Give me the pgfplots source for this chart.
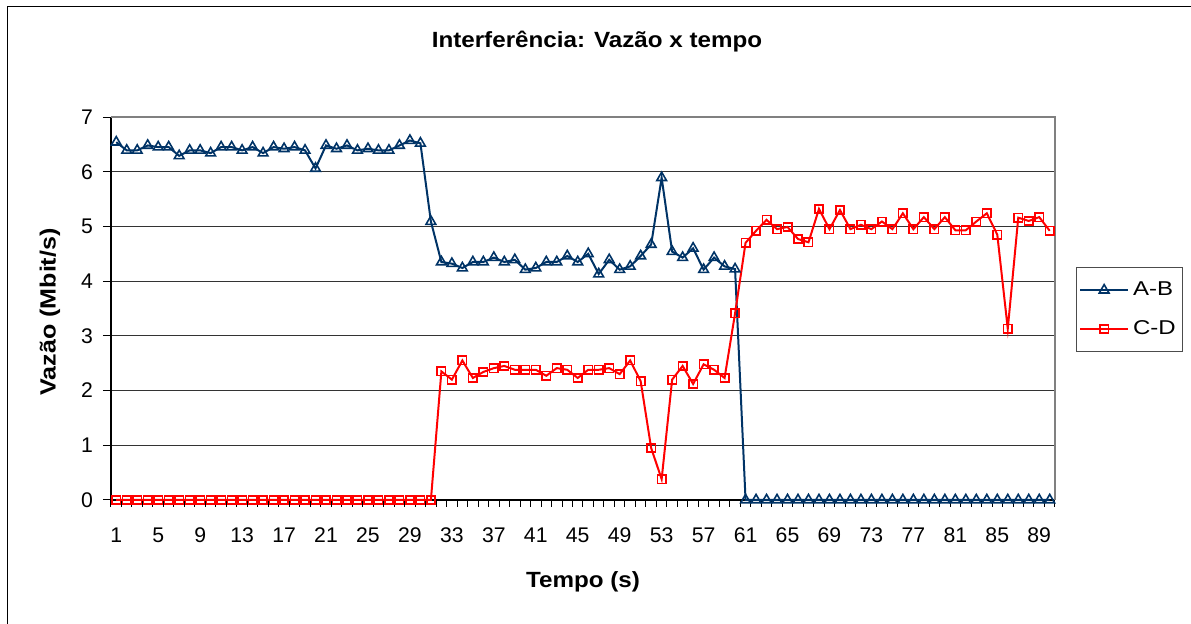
\documentclass[border=0pt]{standalone}
\usepackage{fontspec}
\setmainfont{Liberation Sans}
\usepackage{graphicx}
\usepackage{pgfplots}
\pgfplotsset{compat=1.18}
\usepackage{pgfplotstable}

\definecolor{abblue}{RGB}{0,51,102}
\definecolor{cdred}{RGB}{255,0,0}

% tempo  A-B  C-D
\pgfplotstableread{
t ab cd
1 6.54 0
2 6.39 0
3 6.39 0
4 6.48 0
5 6.45 0
6 6.45 0
7 6.29 0
8 6.39 0
9 6.39 0
10 6.34 0
11 6.45 0
12 6.45 0
13 6.39 0
14 6.45 0
15 6.34 0
16 6.45 0
17 6.42 0
18 6.45 0
19 6.39 0
20 6.06 0
21 6.48 0
22 6.42 0
23 6.48 0
24 6.39 0
25 6.42 0
26 6.39 0
27 6.39 0
28 6.48 0
29 6.57 0
30 6.52 0
31 5.09 0
32 4.35 2.35
33 4.32 2.20
34 4.24 2.55
35 4.35 2.23
36 4.35 2.34
37 4.43 2.41
38 4.35 2.45
39 4.39 2.38
40 4.21 2.38
41 4.24 2.38
42 4.35 2.27
43 4.35 2.41
44 4.46 2.38
45 4.35 2.23
46 4.50 2.38
47 4.13 2.38
48 4.39 2.41
49 4.21 2.30
50 4.27 2.55
51 4.46 2.17
52 4.67 0.95
53 5.89 0.38
54 4.54 2.20
55 4.43 2.45
56 4.60 2.12
57 4.21 2.48
58 4.43 2.38
59 4.27 2.23
60 4.22 3.41
61 0 4.70
62 0 4.92
63 0 5.12
64 0 4.95
65 0 4.99
66 0 4.77
67 0 4.71
68 0 5.32
69 0 4.95
70 0 5.30
71 0 4.95
72 0 5.03
73 0 4.95
74 0 5.09
75 0 4.95
76 0 5.24
77 0 4.95
78 0 5.17
79 0 4.95
80 0 5.17
81 0 4.93
82 0 4.93
83 0 5.09
84 0 5.24
85 0 4.85
86 0 3.13
87 0 5.16
88 0 5.10
89 0 5.17
90 0 4.92
}\dados

\begin{document}
\begin{tikzpicture}
\useasboundingbox (0,0) rectangle (595.5pt,312pt);
% moldura do grafico
\draw[line width=0.8pt] (3.75pt,0) -- (3.75pt,308.75pt) -- (595.5pt,308.75pt);

\node[font=\fontsize{11}{13}\selectfont\bfseries] at (298.5pt,291pt) {\scalebox{1.1}[1]{Interferência: Vazão x tempo}};
\node[font=\fontsize{11}{13}\selectfont\bfseries, rotate=90] at (25pt,156pt) {\scalebox{1.14}[1]{Vazão (Mbit/s)}};
\node[font=\fontsize{11}{13}\selectfont\bfseries] at (291.5pt,21pt) {\scalebox{1.1}[1]{Tempo (s)}};

\begin{axis}[
  at={(55.5pt,62pt)}, anchor=south west,
  scale only axis,
  width=472pt, height=191.5pt,
  xmin=0.5, xmax=90.5,
  ymin=0, ymax=7,
  xtick={1,5,...,89},
  minor xtick={0.5,1.5,...,90.5},
  ytick={0,1,...,7},
  major x tick style={draw=none},
  tick align=outside,
  major tick length=4pt,
  minor tick length=3.5pt,
  tick style={black, line width=0.5pt},
  axis x line*=bottom,
  axis y line*=left,
  axis line style={black, line width=0.7pt, -},
  ymajorgrids,
  major grid style={black!80, line width=0.55pt},
  ticklabel style={font=\fontsize{10.6}{12}\selectfont},
  /pgf/number format/assume math mode=true,
  xticklabel style={yshift=-6.5pt},
  yticklabel style={xshift=-1.5pt},
  clip=false,
  legend style={at={(1.022,0.6076)}, anchor=north west,
    draw=black!70, line width=0.5pt,
    font=\fontsize{10}{12}\selectfont,
    inner xsep=1.5pt, inner ysep=5pt, row sep=7pt},
  legend cell align=left,
  legend image code/.code={
    \draw[mark repeat=2,mark phase=2] plot coordinates {(0cm,0cm) (0.42cm,0cm) (0.84cm,0cm)};},
]
% moldura cinza direita/superior
\draw[black!50, line width=0.8pt] (rel axis cs:0,1) -- (rel axis cs:1,1) -- (rel axis cs:1,0);

\addplot[abblue, line width=1pt, mark=triangle,
  mark options={solid, fill=white, line width=0.8pt}, mark size=2.8pt]
  table[x=t, y=ab] {\dados};
\addplot[cdred, line width=1pt, mark=square,
  mark options={solid, fill=white, line width=0.8pt}, mark size=2.1pt]
  table[x=t, y=cd] {\dados};
\legend{\scalebox{1.2}[1]{A-B}, \scalebox{1.2}[1]{C-D}}
\end{axis}
\end{tikzpicture}
\end{document}
